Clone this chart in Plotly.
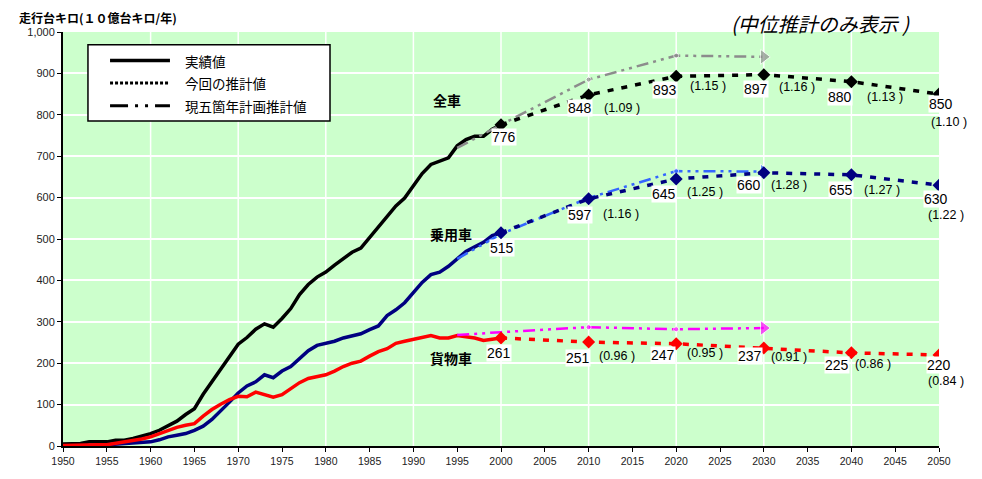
import plotly.graph_objects as go

# ---------------- data ----------------
years_hist = list(range(1950, 2001))
total_hist = [5, 5, 6, 10, 10, 10, 14, 14, 18, 23,
              30, 38, 48, 60, 76, 90, 125, 155, 185, 215,
              246, 262, 282, 295, 287, 308, 332, 366, 390, 408,
              420, 437, 452, 468, 478, 504, 527, 555, 580, 599,
              630, 658, 680, 688, 696, 725, 740, 748, 748, 765, 776]
car_hist = [0, 0, 1, 2, 2, 3, 4, 6, 7, 8,
            10, 15, 22, 26, 30, 38, 48, 64, 84, 106,
            128, 145, 155, 172, 165, 181, 192, 212, 230, 243,
            248, 253, 261, 267, 271, 281, 290, 315, 329, 346,
            370, 395, 414, 420, 434, 452, 470, 481, 492, 508, 515]
truck_hist = [1, 2, 3, 3, 3, 3, 6, 9, 13, 17,
              22, 30, 38, 45, 50, 54, 72, 88, 101, 112,
              120, 119, 130, 125, 118, 124, 138, 153, 163, 167,
              172, 181, 192, 200, 205, 217, 228, 235, 248, 253,
              258, 263, 267, 261, 261, 267, 265, 261, 255, 257, 261]

proj_years = [2000, 2010, 2020, 2030, 2040, 2050]
total_proj = [776, 848, 893, 897, 880, 850]
car_proj = [515, 597, 645, 660, 655, 630]
truck_proj = [261, 251, 247, 237, 225, 220]
total_ratio = [None, "1.09", "1.15", "1.16", "1.13", "1.10"]
car_ratio = [None, "1.16", "1.25", "1.28", "1.27", "1.22"]
truck_ratio = [None, "0.96", "0.95", "0.91", "0.86", "0.84"]

prev_years = [1995, 2000, 2010, 2020, 2030]
total_prev = [720, 776, 885, 943, 940]
car_prev = [452, 512, 599, 664, 663]
truck_prev = [268, 275, 287, 282, 285]

x_ticks = list(range(1950, 2051, 5))
grid_years = list(range(1960, 2050, 10))

legend_names = ["実績値", "今回の推計値", "現五箇年計画推計値"]
series_names = ["全車", "乗用車", "貨物車"]

# ---------------- styles ----------------
JP = "Noto Sans CJK JP"
NUM = "Liberation Sans, Arial"
C_TOTAL, C_CAR, C_TRUCK = "#000000", "#000080", "#FF0000"
C_TOTAL_P, C_CAR_P, C_TRUCK_P = "#8C8C8C", "#3366FF", "#FF00FF"
DOT = "6px,8px"
DASHDOT = "12px,5px,3px,5px,3px,5px"

fig = go.Figure()

# actual lines
for ys, c in [(total_hist, C_TOTAL), (car_hist, C_CAR), (truck_hist, C_TRUCK)]:
    fig.add_trace(go.Scatter(x=years_hist, y=ys, mode="lines",
                             line=dict(color=c, width=3.5), showlegend=False,
                             hoverinfo="skip"))

# previous plan lines with arrow heads
for ys, c in [(total_prev, C_TOTAL_P), (car_prev, C_CAR_P), (truck_prev, C_TRUCK_P)]:
    n = len(ys)
    fig.add_trace(go.Scatter(
        x=prev_years, y=ys, mode="lines+markers",
        line=dict(color=c, width=2.5, dash=DASHDOT),
        marker=dict(color=c,
                    symbol=["circle"] * (n - 1) + ["triangle-right"],
                    size=[0, 0, 5, 5, 13]),
        showlegend=False, hoverinfo="skip"))

# current estimates
for ys, c in [(total_proj, C_TOTAL), (car_proj, C_CAR), (truck_proj, C_TRUCK)]:
    fig.add_trace(go.Scatter(
        x=proj_years, y=ys, mode="lines+markers",
        line=dict(color=c, width=3.5, dash=DOT),
        marker=dict(color=c, symbol="diamond", size=10),
        showlegend=False, hoverinfo="skip"))

# ---------------- annotations ----------------
ann = []
# value label offsets (dx right, dy down) in pixels
val_off = {
    "total": [(3, 12), (-9, 13), (-11, 14), (-8, 14), (-11, 15), (2, 10)],
    "car": [(1, 15), (-9, 16), (-12, 15), (-15, 12), (-10, 15), (-3, 14)],
    "truck": [(-2, 15), (-11, 16), (-13, 11), (-14, 8), (-14, 12), (0, 10)],
}
rat_off = {
    "total": [None, (33, 13), (32, 10), (33, 12), (34, 15), (10, 28)],
    "car": [None, (32, 15), (29, 13), (25, 12), (31, 15), (7, 30)],
    "truck": [None, (28, 14), (29, 9), (25, 9), (22, 11), (7, 26)],
}
for key, vals, rats in [("total", total_proj, total_ratio),
                        ("car", car_proj, car_ratio),
                        ("truck", truck_proj, truck_ratio)]:
    for i, (yr, v) in enumerate(zip(proj_years, vals)):
        dx, dy = val_off[key][i]
        ann.append(dict(x=yr, y=v, xref="x", yref="y", text=str(v),
                        showarrow=False, xshift=dx, yshift=-dy,
                        bgcolor="white", borderpad=0,
                        font=dict(family=NUM, size=14, color="black")))
        if rats[i] is not None:
            rx, ry = rat_off[key][i]
            ann.append(dict(x=yr, y=v, xref="x", yref="y",
                            text="(" + rats[i] + " )",
                            showarrow=False, xshift=rx, yshift=-ry,
                            font=dict(family=NUM, size=12.5, color="black")))

# category labels
for name, (cx, cy) in zip(series_names, [(1993.8, 836), (1994.3, 513), (1994.3, 213)]):
    ann.append(dict(x=cx, y=cy, xref="x", yref="y", text="<b>" + name + "</b>",
                    showarrow=False, font=dict(family=JP, size=14, color="black")))

# axis title (top-left) and note (top-right)
ann.append(dict(x=-0.0525, y=1.0358, xref="paper", yref="paper", xanchor="left",
                yanchor="middle", showarrow=False,
                text="<b>走行台キロ(１０億台キロ/年)</b>",
                font=dict(family=JP, size=12, color="black")))
ann.append(dict(x=0.865, y=1.0203, xref="paper", yref="paper", xanchor="center",
                yanchor="middle", showarrow=False,
                text="<i>(中位推計のみ表示 )</i>",
                font=dict(family=JP, size=20, color="black")))

# ---------------- custom legend ----------------
shapes = []
shapes.append(dict(type="rect", xref="paper", yref="paper",
                   x0=0.0285, x1=0.3048, y0=0.785, y1=0.969,
                   fillcolor="white", line=dict(color="black", width=1.5),
                   layer="above"))
leg_rows = [0.931, 0.877, 0.822]
leg_styles = [dict(width=3.5, dash="solid"),
              dict(width=3, dash="3px,2px"),
              dict(width=3, dash="18px,7px,3px,7px,3px,7px")]
for name, yy, st in zip(legend_names, leg_rows, leg_styles):
    shapes.append(dict(type="line", xref="paper", yref="paper",
                       x0=0.0537, x1=0.1221, y0=yy, y1=yy,
                       line=dict(color="black", **st), layer="above"))
    ann.append(dict(x=0.137, y=yy, xref="paper", yref="paper", xanchor="left",
                    yanchor="middle", showarrow=False, text=name,
                    font=dict(family=JP, size=13.5, color="black")))

# vertical grid lines every 10 years
for gy in grid_years:
    shapes.append(dict(type="line", xref="x", yref="paper", x0=gy, x1=gy,
                       y0=0, y1=1, line=dict(color="white", width=1.5),
                       layer="below"))

# page body has an 8px margin: figure is 974x471 and sits at (8, 8)
fig.update_layout(
    width=974, height=471,
    margin=dict(l=55, r=43, t=24, b=28),
    paper_bgcolor="white", plot_bgcolor="#CCFFCC",
    showlegend=False,
    annotations=ann, shapes=shapes,
    xaxis=dict(range=[1950, 2050], tickvals=x_ticks,
               ticktext=[str(t) for t in x_ticks],
               showgrid=False, zeroline=False,
               showline=True, linecolor="black", linewidth=2,
               ticks="outside", ticklen=4, tickcolor="black",
               tickfont=dict(family=NUM, size=10.5, color="#222222")),
    yaxis=dict(range=[0, 1000], dtick=100, tickformat=",",
               showgrid=True, gridcolor="white", gridwidth=1.5,
               zeroline=False, showline=True, linecolor="black", linewidth=2,
               ticks="outside", ticklen=4, tickcolor="black",
               tickfont=dict(family=NUM, size=11, color="#222222")),
)

fig.write_html("out.html")
